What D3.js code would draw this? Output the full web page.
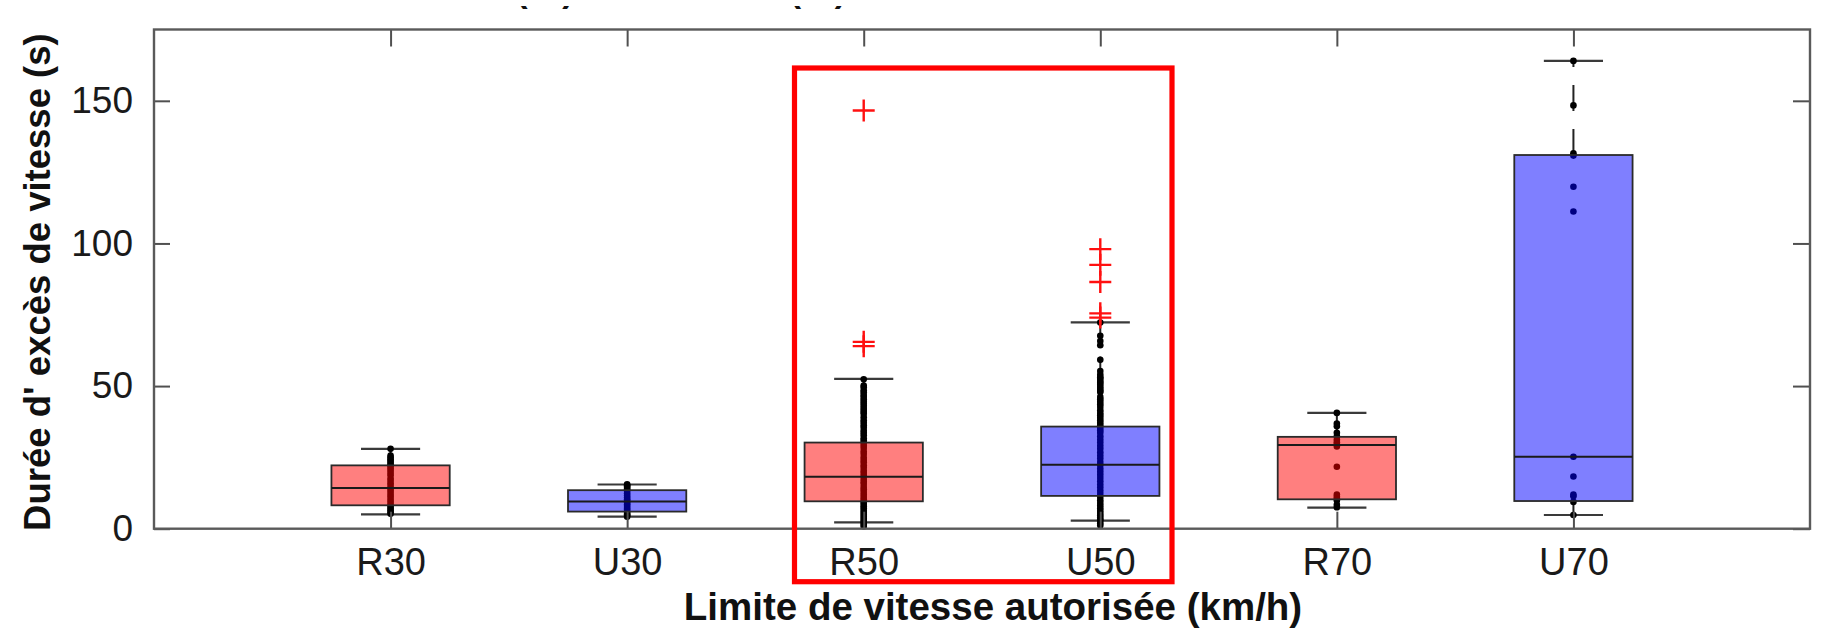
<!DOCTYPE html>
<html>
<head>
<meta charset="utf-8">
<script src="https://cdn.jsdelivr.net/npm/d3@7"></script>
<style>
  html, body { margin: 0; padding: 0; background: #fff; }
  svg { display: block; }
  text { font-family: "Liberation Sans", Arial, sans-serif; }
</style>
</head>
<body>
<svg id="chart" width="1826" height="635"></svg>
<script>
// Speed-limit groups (R = rural, U = urban)
const categories = ["R30", "U30", "R50", "U50", "R70", "U70"];
const zones      = ["R",   "U",   "R",   "U",   "R",   "U"];

// Box statistics per group (seconds)
const q1          = [8.2,  6.0,  9.6,  11.5, 10.3, 9.7];
const medians     = [14.3, 9.5,  18.2, 22.4, 29.3, 25.2];
const q3          = [22.2, 13.5, 30.2, 35.8, 32.2, 131.0];
const whiskerLow  = [5.0,  4.2,  2.2,  2.8,  7.4,  4.8];
const whiskerHigh = [28.0, 15.5, 52.5, 72.3, 40.6, 164.0];

// Outliers (drawn as "+")
const outliersR50 = [146.6, 65.5, 64.0];
const outliersU50 = [98.0, 92.5, 86.5, 75.5, 74.0];

// Individual observations
const pointsR30 = [28.0, 25.6, 25.0, 24.3, 23.8, 23.1, 22.6, 21.9, 21.2, 20.4, 19.5, 18.7, 17.6, 16.8,
  15.9, 15.1, 14.2, 13.4, 12.5, 11.6, 10.8, 9.9, 9.1, 8.3, 7.6, 7.0, 6.4, 5.8, 5.2];
const pointsU30 = [15.6, 15.2, 14.8, 14.3, 13.8, 13.2, 12.4, 11.6, 10.9, 10.3, 9.8, 9.2, 8.6, 8.0,
  7.3, 6.7, 6.1, 5.5, 5.0, 4.6, 4.2];
const pointsR50 = [52.4, 50.2, 49.6, 48.5, 47.8, 46.9, 46.2, 45.4, 44.6, 43.9, 43.1, 42.3, 41.6, 40.9,
  40.3, 39.1, 38.0, 37.2, 36.3, 35.5, 34.4, 33.6, 32.8, 31.7, 31.0, 30.1, 29.2, 28.3, 27.1, 26.2,
  25.0, 24.1, 23.3, 22.2, 21.4, 20.3, 19.5, 18.6, 17.4, 16.5, 15.7, 14.6, 13.8, 12.9, 12.0, 11.1,
  10.3, 9.4, 8.7, 7.9, 7.2, 6.4, 5.7, 5.0, 4.3, 3.6, 2.9, 2.2, 1.5, 0.8];
const pointsU50 = [72.3, 67.6, 65.8, 64.3, 59.2, 55.3, 54.0, 53.1, 52.6, 51.8, 51.2, 50.5, 49.7, 49.0,
  48.3, 47.9, 46.2, 45.4, 44.5, 43.6, 42.7, 41.5, 40.6, 39.8, 38.9, 38.0, 37.1, 36.3, 35.4, 34.5,
  33.6, 32.4, 31.3, 30.2, 29.1, 28.0, 26.8, 25.7, 24.6, 23.4, 22.3, 21.1, 20.0, 18.9, 17.8, 16.6,
  15.5, 14.4, 13.3, 12.2, 11.1, 10.0, 9.0, 8.1, 7.2, 6.3, 5.5, 4.7, 3.9, 3.2, 2.8, 1.9, 1.1];
const pointsR70 = [40.6, 36.9, 35.9, 33.6, 32.4, 31.2, 30.3, 29.6, 28.8, 21.7, 12.0, 11.2, 10.5, 9.9, 8.4, 7.5];
const pointsU70 = [164.0, 148.4, 131.6, 130.8, 119.9, 111.2, 25.2, 18.3, 12.0, 11.4, 9.4, 4.8];

const yTicks = [0, 50, 100, 150];
const yTitle = "Durée d' excès de vitesse (s)";
const xTitle = "Limite de vitesse autorisée (km/h)";

const zoneFill = { R: "rgba(255,0,0,0.5)", U: "rgba(0,0,255,0.5)" };

const pointsByGroup = [pointsR30, pointsU30, pointsR50, pointsU50, pointsR70, pointsU70];
const outliersByGroup = [[], [], outliersR50, outliersU50, [], []];

const groups = categories.map((c, i) => ({
  name: c, pos: i + 1, zone: zones[i],
  q1: q1[i], med: medians[i], q3: q3[i],
  lo: whiskerLow[i], hi: whiskerHigh[i],
  points: pointsByGroup[i], outliers: outliersByGroup[i]
}));

const plot = { left: 154, right: 1810, top: 29.5, bottom: 528.7 };

const x = d3.scaleLinear().domain([0, 7]).range([plot.left, plot.right]);
const y = d3.scaleLinear().domain([0, 175]).range([plot.bottom, plot.top]);

const svg = d3.select("#chart");
const unit = x(1) - x(0);
const boxW = unit * 0.5;
const capW = unit * 0.25;

// Title line above the frame, cropped by the top of the figure
svg.append("defs").append("clipPath").attr("id", "title-crop")
  .append("rect").attr("x", 0).attr("y", 6).attr("width", 1826).attr("height", 8);
const titleMarks = svg.append("g").attr("clip-path", "url(#title-crop)")
  .attr("font-weight", "bold").attr("font-size", 34).attr("fill", "#111");
[["(", 522], [")", 568], ["(", 795.5], [")", 840.5]].forEach(([ch, px]) => {
  titleMarks.append("text").attr("x", px).attr("y", 2.4).attr("text-anchor", "middle").text(ch);
});

const gPlot = svg.append("g");

// Whiskers (dashed)
gPlot.selectAll("line.wh-up").data(groups).join("line")
  .attr("x1", d => x(d.pos)).attr("x2", d => x(d.pos))
  .attr("y1", d => y(d.q3)).attr("y2", d => y(d.hi))
  .attr("stroke", "#222").attr("stroke-width", 2).attr("stroke-dasharray", "26,18");
gPlot.selectAll("line.wh-lo").data(groups).join("line")
  .attr("x1", d => x(d.pos)).attr("x2", d => x(d.pos))
  .attr("y1", d => y(d.q1)).attr("y2", d => y(d.lo))
  .attr("stroke", "#222").attr("stroke-width", 2).attr("stroke-dasharray", "26,18");

// Whisker caps
["hi", "lo"].forEach(k => {
  gPlot.append("g").selectAll("line").data(groups).join("line")
    .attr("x1", d => x(d.pos) - capW / 2).attr("x2", d => x(d.pos) + capW / 2)
    .attr("y1", d => y(d[k])).attr("y2", d => y(d[k]))
    .attr("stroke", "#3a3a3a").attr("stroke-width", 2.2);
});

// Individual observations
groups.forEach(g => {
  gPlot.append("g").selectAll("circle").data(g.points).join("circle")
    .attr("cx", x(g.pos)).attr("cy", v => y(v)).attr("r", 3.3)
    .attr("fill", "#000");
});

// Boxes (translucent, drawn over the points)
gPlot.selectAll("rect.box").data(groups).join("rect")
  .attr("x", d => x(d.pos) - boxW / 2).attr("width", boxW)
  .attr("y", d => y(d.q3)).attr("height", d => y(d.q1) - y(d.q3))
  .attr("fill", d => zoneFill[d.zone])
  .attr("stroke", "#2a2a2a").attr("stroke-width", 1.8);

// Medians
gPlot.selectAll("line.med").data(groups).join("line")
  .attr("x1", d => x(d.pos) - boxW / 2).attr("x2", d => x(d.pos) + boxW / 2)
  .attr("y1", d => y(d.med)).attr("y2", d => y(d.med))
  .attr("stroke", "#1a1a1a").attr("stroke-width", 2);

// Outliers
const plus = 11;
groups.forEach(g => {
  gPlot.append("g").selectAll("path").data(g.outliers).join("path")
    .attr("d", v => {
      const cx = x(g.pos), cy = y(v);
      return `M${cx - plus},${cy}H${cx + plus}M${cx},${cy - plus}V${cy + plus}`;
    })
    .attr("stroke", "#ff1010").attr("stroke-width", 2.4).attr("fill", "none");
});

// Axes: ticks pointing inward on all four sides
const axisStyle = sel => {
  sel.select(".domain").remove();
  sel.selectAll(".tick line").attr("stroke", "#505050").attr("stroke-width", 2);
};
const xBottom = d3.axisBottom(x).tickValues(groups.map(d => d.pos))
  .tickFormat((d, i) => categories[i]).tickSizeInner(-17).tickSizeOuter(0).tickPadding(19);
svg.append("g").attr("transform", `translate(0,${plot.bottom})`).call(xBottom).call(axisStyle)
  .selectAll("text").attr("font-size", 38).attr("fill", "#1a1a1a").attr("dy", "0.71em");

const xTop = d3.axisTop(x).tickValues(groups.map(d => d.pos)).tickFormat("")
  .tickSizeInner(-17).tickSizeOuter(0);
svg.append("g").attr("transform", `translate(0,${plot.top})`).call(xTop).call(axisStyle);

const yLeft = d3.axisLeft(y).tickValues(yTicks).tickFormat(d3.format("d"))
  .tickSizeInner(-16).tickSizeOuter(0).tickPadding(21);
svg.append("g").attr("transform", `translate(${plot.left},0)`).call(yLeft).call(axisStyle)
  .selectAll("text").attr("font-size", 37).attr("fill", "#1a1a1a");

const yRight = d3.axisRight(y).tickValues(yTicks).tickFormat("")
  .tickSizeInner(-17).tickSizeOuter(0);
svg.append("g").attr("transform", `translate(${plot.right},0)`).call(yRight).call(axisStyle);

// Plot frame
svg.append("rect")
  .attr("x", plot.left).attr("y", plot.top)
  .attr("width", plot.right - plot.left).attr("height", plot.bottom - plot.top)
  .attr("fill", "none").attr("stroke", "#5a5a5a").attr("stroke-width", 2.4);

// Axis titles
svg.append("text")
  .attr("transform", `translate(50,${(plot.top + plot.bottom) / 2 + 3}) rotate(-90)`)
  .attr("text-anchor", "middle").attr("font-weight", "bold").attr("font-size", 36.5)
  .attr("fill", "#111").text(yTitle);
svg.append("text")
  .attr("x", 993).attr("y", 620)
  .attr("text-anchor", "middle").attr("font-weight", "bold").attr("font-size", 38.5)
  .attr("fill", "#111").text(xTitle);

// Highlight around the 50 km/h groups
svg.append("rect")
  .attr("x", 794.5).attr("y", 68).attr("width", 1172 - 794.5).attr("height", 581.7 - 68)
  .attr("fill", "none").attr("stroke", "#ff0000").attr("stroke-width", 5.2);
</script>
</body>
</html>
